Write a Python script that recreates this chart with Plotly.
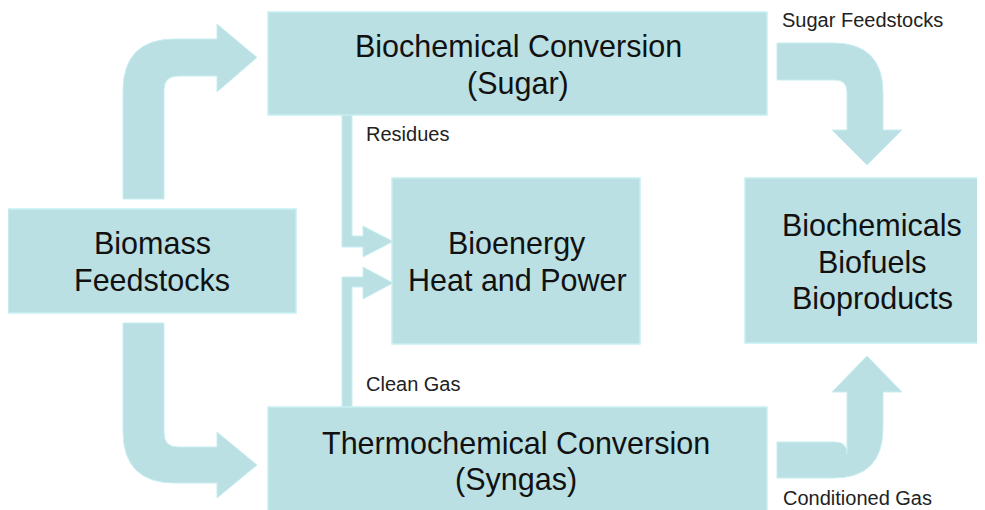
import plotly.graph_objects as go

# ---- content (text) ----
box_labels = [
    ["Biomass", "Feedstocks"],
    ["Biochemical Conversion", "(Sugar)"],
    ["Bioenergy", "Heat and Power"],
    ["Biochemicals", "Biofuels", "Bioproducts"],
    ["Thermochemical Conversion", "(Syngas)"],
]
flow_labels = ["Residues", "Clean Gas", "Sugar Feedstocks", "Conditioned Gas"]

# ---- layout geometry (diagram coordinates in page pixels) ----
box_x0 = [8, 268, 392, 745, 268]
box_x1 = [296, 767, 640, 983, 767]
box_y0 = [209, 12, 178, 178, 407]
box_y1 = [313, 115, 344, 343, 512]
text_x = [152, 518, 517, 872, 516]
text_y = [261.5, 64.5, 261.5, 261.5, 461]
LINE_GAP = 37

flow_x = [364, 364, 780, 781]
flow_y = [134, 384, 20, 498]

FILL = "#BAE0E3"
EDGE = "#C8EEF1"

arrow_paths = [
    # Biomass -> Biochemical (up and right)
    "M 123 199 L 123 91 Q 123 39 175 39 L 217 39 L 217 24 L 257 57.5 L 217 92 "
    "L 217 76 L 178 76 Q 164 76 164 90 L 164 199 Z",
    # Biomass -> Thermochemical (down and right)
    "M 123 323 L 123 431 Q 123 483 175 483 L 217 483 L 217 498 L 257 465 L 217 432 "
    "L 217 447 L 178 447 Q 164 447 164 433 L 164 323 Z",
    # Biochemical -> Biochemicals (right and down)
    "M 777 43 L 833 43 Q 883 43 883 93 L 883 130 L 902 130 L 867 165 L 832 130 "
    "L 847 130 L 847 92 Q 847 80 835 80 L 777 80 Z",
    # Thermochemical -> Biochemicals (right and up)
    "M 777 478 L 833 478 Q 883 478 883 428 L 883 392 L 902 392 L 867 356 L 832 392 "
    "L 847 392 L 847 454 Q 847 442 835 442 L 777 442 Z",
    # Residues -> Bioenergy
    "M 342 115 L 342 247 L 363 247 L 363 257 L 393 241.5 L 363 226 L 363 236 "
    "L 352 236 L 352 115 Z",
    # Clean gas -> Bioenergy
    "M 342 407 L 342 277 L 363 277 L 363 267 L 393 283 L 363 299 L 363 287 "
    "L 352 287 L 352 407 Z",
]

fig = go.Figure()
fig.add_trace(go.Scatter(x=[8, 985], y=[8, 510], mode="markers",
                         marker=dict(opacity=0), hoverinfo="skip", showlegend=False))

shapes = []
for p in arrow_paths:
    shapes.append(dict(type="path", path=p, xref="x", yref="y",
                       fillcolor=FILL, line=dict(color=EDGE, width=1), layer="below"))
for x0, x1, y0, y1 in zip(box_x0, box_x1, box_y0, box_y1):
    shapes.append(dict(type="rect", x0=x0, x1=x1, y0=y0, y1=y1, xref="x", yref="y",
                       fillcolor=FILL, line=dict(color=EDGE, width=1.5), layer="below"))

FONT = "Liberation Sans, Arial, sans-serif"
annotations = []
for lines, x, yc in zip(box_labels, text_x, text_y):
    n = len(lines)
    for i, line in enumerate(lines):
        y = yc + (i - (n - 1) / 2) * LINE_GAP
        annotations.append(dict(text=line, x=x, y=y, xref="x", yref="y", showarrow=False,
                                xanchor="center", yanchor="middle", align="center",
                                font=dict(family=FONT, size=30.5, color="#111111")))
for lab, x, y in zip(flow_labels, flow_x, flow_y):
    annotations.append(dict(text=lab, x=x, y=y, xref="x", yref="y", showarrow=False,
                            xanchor="left", yanchor="middle", align="left",
                            font=dict(family=FONT, size=20, color="#222222")))

# the page body has an 8px margin, so the figure starts at page pixel (8, 8)
fig.update_layout(
    width=977, height=502,
    margin=dict(l=0, r=0, t=0, b=0),
    paper_bgcolor="white", plot_bgcolor="white",
    shapes=shapes, annotations=annotations,
    xaxis=dict(range=[8, 985], visible=False, fixedrange=True),
    yaxis=dict(range=[510, 8], visible=False, fixedrange=True),
    showlegend=False,
)

fig.write_html("out.html", config={"displayModeBar": False})
